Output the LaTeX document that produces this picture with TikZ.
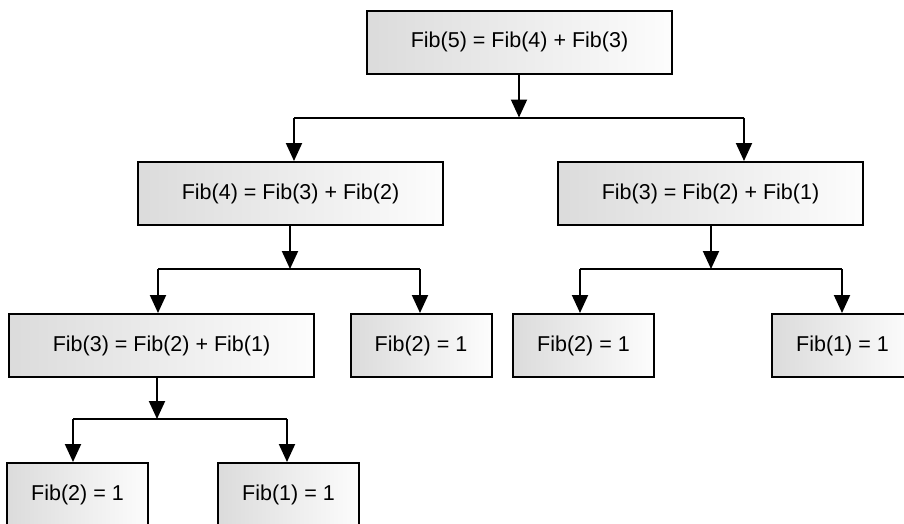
\documentclass[tikz,border=0pt]{standalone}
\usepackage{fontspec}
\setmainfont{Liberation Sans}
\usetikzlibrary{arrows.meta}
\begin{document}
\begin{tikzpicture}[x=1pt,y=-1pt,
  fibbox/.style={draw=black, line width=2pt, left color=black!14, right color=black!1,
    minimum height=63pt, inner sep=0pt, font=\fontsize{21.5}{24}\selectfont},
  wide/.style={fibbox, minimum width=305pt},
  narrow/.style={fibbox, minimum width=141pt},
  bar/.style={line width=2pt},
  link/.style={line width=2pt, -{Triangle[length=18pt,width=16pt]}}]
\clip (0,0) rectangle (904,523);
\useasboundingbox (0,0) rectangle (904,523);

% call tree of Fib(5)
\node[wide]   (f5)  at (519.5, 42)    {Fib(5) = Fib(4) + Fib(3)};
\node[wide]   (f4)  at (290.5, 193.5) {Fib(4) = Fib(3) + Fib(2)};
\node[wide]   (f3r) at (710.5, 193.5) {Fib(3) = Fib(2) + Fib(1)};
\node[wide]   (f3l) at (161.5, 345.5) {Fib(3) = Fib(2) + Fib(1)};
\node[narrow] (f2a) at (421, 345.5)   {Fib(2) = 1};
\node[narrow] (f2b) at (583.5, 345.5) {Fib(2) = 1};
\node[narrow] (f1a) at (842.5, 345.5) {Fib(1) = 1};
\node[narrow] (f2c) at (77.5, 494.5)  {Fib(2) = 1};
\node[narrow] (f1b) at (288.5, 494.5) {Fib(1) = 1};

% junctions and bar ends
\coordinate (j1) at (519, 117.5);
\coordinate (b1l) at (294, 117.5);
\coordinate (b1r) at (744, 117.5);
\coordinate (j2) at (290, 269);
\coordinate (b2l) at (158, 269);
\coordinate (b2r) at (420, 269);
\coordinate (j3) at (711, 269);
\coordinate (b3l) at (580, 269);
\coordinate (b3r) at (842, 269);
\coordinate (j4) at (157, 419);
\coordinate (b4l) at (73, 419);
\coordinate (b4r) at (287, 419);

% Fib(5) -> Fib(4), Fib(3)
\draw[link] (j1 |- f5.south) -- (j1);
\draw[bar] (b1l) -- (b1r);
\draw[link] (b1l) -- (b1l |- f4.north);
\draw[link] (b1r) -- (b1r |- f3r.north);

% Fib(4) -> Fib(3), Fib(2)
\draw[link] (j2 |- f4.south) -- (j2);
\draw[bar] (b2l) -- (b2r);
\draw[link] (b2l) -- (b2l |- f3l.north);
\draw[link] (b2r) -- (b2r |- f2a.north);

% Fib(3) -> Fib(2), Fib(1)
\draw[link] (j3 |- f3r.south) -- (j3);
\draw[bar] (b3l) -- (b3r);
\draw[link] (b3l) -- (b3l |- f2b.north);
\draw[link] (b3r) -- (b3r |- f1a.north);

% Fib(3) -> Fib(2), Fib(1)
\draw[link] (j4 |- f3l.south) -- (j4);
\draw[bar] (b4l) -- (b4r);
\draw[link] (b4l) -- (b4l |- f2c.north);
\draw[link] (b4r) -- (b4r |- f1b.north);
\end{tikzpicture}
\end{document}
